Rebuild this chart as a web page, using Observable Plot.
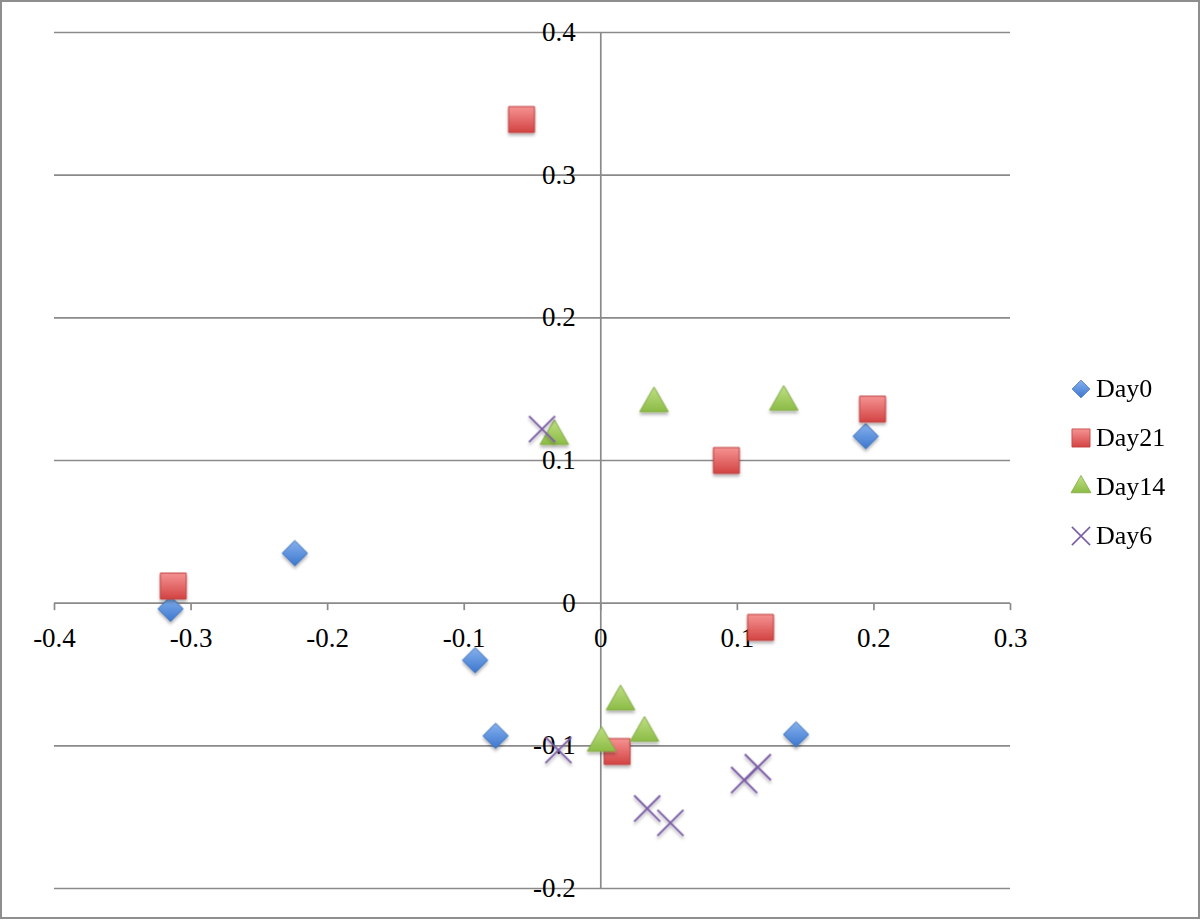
<!DOCTYPE html>
<html><head><meta charset="utf-8">
<script src="https://cdn.jsdelivr.net/npm/d3@7"></script>
<script src="https://cdn.jsdelivr.net/npm/@observablehq/plot@0.6"></script>
<style>
html,body{margin:0;padding:0;background:#fff;}
#frame{position:absolute;left:0;top:0;width:1200px;height:919px;box-sizing:border-box;border:2px solid #8e8e8e;pointer-events:none;}
#chart{position:absolute;left:0;top:0;}
#legend{position:absolute;left:1069px;top:364px;font-family:"Liberation Serif",serif;font-size:26px;color:#000;}
.item{height:49px;display:flex;align-items:center;}
.item svg{width:24px;height:24px;margin-right:3px;overflow:visible;}
</style></head><body>
<svg width="0" height="0" style="position:absolute">
  <defs>
    <linearGradient id="gBlue" x1="0" y1="0" x2="0" y2="1">
      <stop offset="0" stop-color="#86b2ee"/><stop offset="1" stop-color="#3d77cf"/>
    </linearGradient>
    <linearGradient id="gRed" x1="0" y1="0" x2="0" y2="1">
      <stop offset="0" stop-color="#f69393"/><stop offset="1" stop-color="#d34343"/>
    </linearGradient>
    <linearGradient id="gGreen" x1="0" y1="0" x2="0" y2="1">
      <stop offset="0" stop-color="#bfe084"/><stop offset="1" stop-color="#8cbc46"/>
    </linearGradient>
    <filter id="shadow" x="-50%" y="-50%" width="200%" height="200%">
      <feDropShadow dx="0" dy="2.5" stdDeviation="1.6" flood-color="#000" flood-opacity="0.3"/>
    </filter>
  </defs>
</svg>
<div id="chart"></div>
<div id="frame"></div>
<div id="legend"></div>
<script>
// ---- data ----
const seriesNames = ["Day0", "Day21", "Day14", "Day6"];
const day0X  = [-0.315, -0.224, -0.092, -0.077, 0.143, 0.194];
const day0Y  = [-0.004, 0.035, -0.040, -0.093, -0.092, 0.117];
const day21X = [-0.313, -0.058, 0.012, 0.092, 0.117, 0.199];
const day21Y = [0.012, 0.339, -0.104, 0.100, -0.017, 0.136];
const day14X = [-0.034, 0.039, 0.134, 0.0145, 0.032, 0.0006];
const day14Y = [0.117, 0.140, 0.141, -0.069, -0.091, -0.098];
const day6X  = [-0.043, -0.031, 0.034, 0.051, 0.105, 0.115];
const day6Y  = [0.122, -0.103, -0.144, -0.154, -0.124, -0.115];
const xTicks = [-0.4, -0.3, -0.2, -0.1, 0, 0.1, 0.2, 0.3];
const xTickLabels = ["-0.4", "-0.3", "-0.2", "-0.1", "0", "0.1", "0.2", "0.3"];
const yTicks = [-0.2, -0.1, 0, 0.1, 0.2, 0.3, 0.4];
const yTickLabels = ["-0.2", "-0.1", "0", "0.1", "0.2", "0.3", "0.4"];

// ---- styles ----
const axisColor = "#8a8a8a";
const seriesStyle = {
  Day0:  {symbol: "diamond2", r: 11.4, fill: "url(#gBlue)",  stroke: "#3b6cb3", strokeWidth: 1},
  Day21: {symbol: "square",   r: 14.6, fill: "url(#gRed)",   stroke: "#bf3f3f", strokeWidth: 1},
  Day14: {symbol: "triangle", r: 10.6, fill: "url(#gGreen)", stroke: "#84ab45", strokeWidth: 1},
  Day6:  {symbol: "times",    r: 11.9, fill: "none",         stroke: "#7b5ea6", strokeWidth: 2}
};

const rows = [];
function add(name, xs, ys) { xs.forEach((x, i) => rows.push({series: name, x, y: ys[i]})); }
add("Day0", day0X, day0Y);
add("Day21", day21X, day21Y);
add("Day14", day14X, day14Y);
add("Day6", day6X, day6Y);

const tickSymbol = {draw(ctx) { ctx.moveTo(0, 0); ctx.lineTo(0, 7); }};

const chart = Plot.plot({
  width: 1200, height: 920,
  marginLeft: 54, marginRight: 190, marginTop: 32, marginBottom: 32,
  x: {domain: [-0.4, 0.3], axis: null},
  y: {domain: [-0.2, 0.4], axis: null},
  style: {fontFamily: "'Liberation Serif', serif", fontSize: "27px", background: "transparent", color: "#000"},
  marks: [
    Plot.ruleY(yTicks, {y: d => d, stroke: axisColor, strokeWidth: 1.7}),
    Plot.ruleX([0], {x: d => d, stroke: axisColor, strokeWidth: 1.7}),
    Plot.dot(xTicks, {x: d => d, y: 0, symbol: tickSymbol, fill: "none", stroke: axisColor, strokeWidth: 1.7}),
    Plot.text(yTicks, {x: 0, y: d => d, text: (d, i) => yTickLabels[i], textAnchor: "end", dx: -25, fontSize: 27, fill: "#000"}),
    Plot.text(xTicks, {x: d => d, y: 0, text: (d, i) => xTickLabels[i], dy: 35, fontSize: 27, fill: "#000"}),
    ...seriesNames.map(name => Plot.dot(rows.filter(d => d.series === name), {x: "x", y: "y", ...seriesStyle[name]}))
  ]
});
document.getElementById("chart").appendChild(chart);

// soft drop shadow on the data markers
d3.select(chart).selectAll("g").filter(function() {
  const f = this.getAttribute("fill") || "";
  const s = this.getAttribute("stroke") || "";
  return f.startsWith("url(") || s === seriesStyle.Day6.stroke;
}).attr("filter", "url(#shadow)");

// ---- legend ----
const symbolMap = {diamond2: d3.symbolDiamond2, square: d3.symbolSquare, triangle: d3.symbolTriangle, times: d3.symbolTimes};
const legend = d3.select("#legend");
seriesNames.forEach(name => {
  const st = seriesStyle[name];
  const item = legend.append("div").attr("class", "item");
  const svg = item.append("svg").attr("viewBox", "-12 -12 24 24");
  const rr = st.r * 0.7;
  svg.append("path")
    .attr("d", d3.symbol(symbolMap[st.symbol], Math.PI * rr * rr)())
    .attr("fill", st.fill).attr("stroke", st.stroke)
    .attr("stroke-width", st.symbol === "times" ? 1.6 : 0.8);
  item.append("span").text(name);
});
</script>
</body></html>
